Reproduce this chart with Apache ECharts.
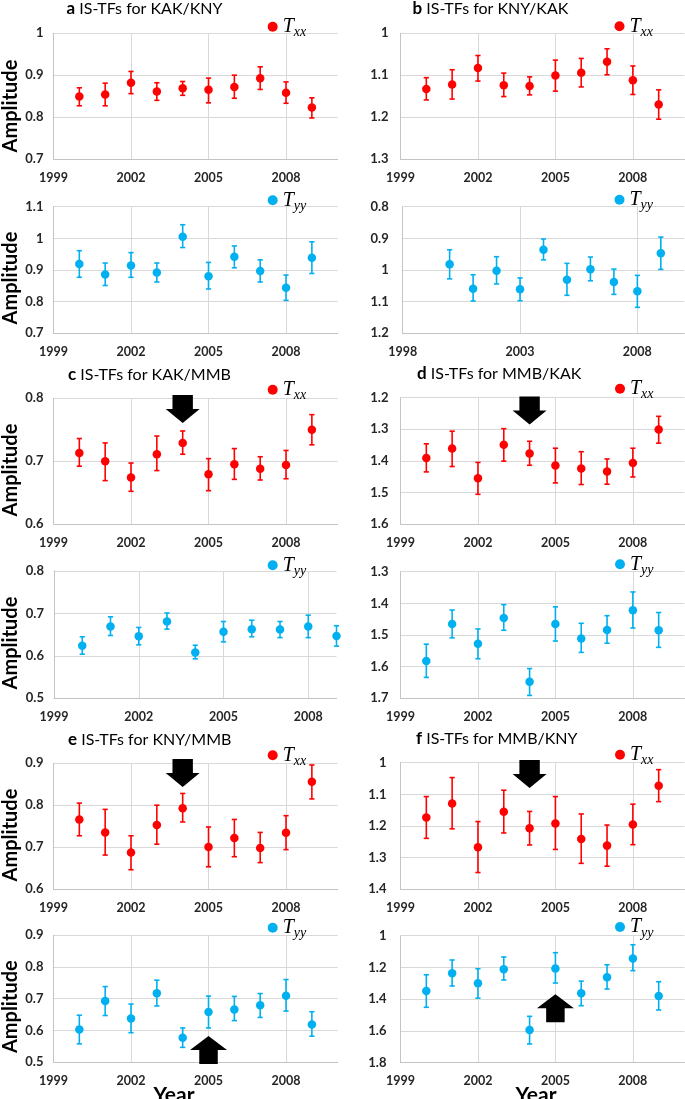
<!DOCTYPE html>
<html><head><meta charset="utf-8">
<script src="https://cdn.jsdelivr.net/npm/echarts@6/dist/echarts.min.js"></script>
<style>html,body{margin:0;padding:0;background:#fff}#c{width:685px;height:1099px}</style>
</head><body><div id="c"></div>
<script>
// ---- data ----
const years = [2000, 2001, 2002, 2003, 2004, 2005, 2006, 2007, 2008, 2009];

const aTxx_val = [0.849, 0.854, 0.882, 0.861, 0.869, 0.865, 0.872, 0.893, 0.858, 0.823];
const aTxx_lo  = [0.827, 0.827, 0.856, 0.840, 0.852, 0.834, 0.845, 0.866, 0.833, 0.798];
const aTxx_hi  = [0.870, 0.881, 0.909, 0.882, 0.885, 0.893, 0.900, 0.920, 0.884, 0.846];

const bTxx_val = [1.133, 1.122, 1.083, 1.124, 1.126, 1.101, 1.094, 1.068, 1.112, 1.170];
const bTxx_lo  = [1.106, 1.087, 1.053, 1.095, 1.104, 1.064, 1.060, 1.037, 1.078, 1.135];
const bTxx_hi  = [1.159, 1.157, 1.114, 1.151, 1.147, 1.138, 1.128, 1.099, 1.146, 1.205];

const aTyy_val = [0.919, 0.886, 0.914, 0.892, 1.005, 0.880, 0.942, 0.897, 0.844, 0.939];
const aTyy_lo  = [0.877, 0.851, 0.877, 0.862, 0.971, 0.840, 0.907, 0.862, 0.804, 0.889];
const aTyy_hi  = [0.961, 0.922, 0.955, 0.922, 1.043, 0.924, 0.976, 0.932, 0.884, 0.989];

const bTyy_val = [0.982, 1.059, 1.002, 1.061, 0.936, 1.031, 0.998, 1.038, 1.067, 0.947];
const bTyy_lo  = [0.936, 1.015, 0.958, 1.025, 0.902, 0.979, 0.959, 0.997, 1.017, 0.896];
const bTyy_hi  = [1.028, 1.098, 1.044, 1.097, 0.968, 1.080, 1.034, 1.077, 1.118, 0.998];

const cTxx_val = [0.713, 0.700, 0.674, 0.711, 0.729, 0.679, 0.695, 0.688, 0.694, 0.750];
const cTxx_lo  = [0.692, 0.669, 0.652, 0.685, 0.711, 0.653, 0.671, 0.670, 0.672, 0.726];
const cTxx_hi  = [0.736, 0.729, 0.697, 0.740, 0.748, 0.704, 0.720, 0.707, 0.717, 0.774];

const dTxx_val = [1.391, 1.361, 1.455, 1.349, 1.377, 1.415, 1.424, 1.434, 1.407, 1.301];
const dTxx_lo  = [1.346, 1.306, 1.405, 1.298, 1.338, 1.360, 1.371, 1.394, 1.360, 1.259];
const dTxx_hi  = [1.435, 1.418, 1.506, 1.401, 1.414, 1.470, 1.475, 1.474, 1.451, 1.344];

const cTyy_val = [0.624, 0.669, 0.646, 0.681, 0.608, 0.657, 0.663, 0.662, 0.669, 0.647];
const cTyy_lo  = [0.604, 0.648, 0.626, 0.663, 0.593, 0.633, 0.645, 0.643, 0.643, 0.623];
const cTyy_hi  = [0.645, 0.692, 0.667, 0.701, 0.625, 0.681, 0.684, 0.681, 0.696, 0.671];

const dTyy_val = [1.582, 1.465, 1.528, 1.446, 1.648, 1.465, 1.511, 1.484, 1.422, 1.485];
const dTyy_lo  = [1.529, 1.421, 1.481, 1.404, 1.606, 1.411, 1.463, 1.439, 1.364, 1.429];
const dTyy_hi  = [1.634, 1.509, 1.575, 1.485, 1.691, 1.519, 1.555, 1.526, 1.478, 1.539];

const eTxx_val = [0.766, 0.735, 0.687, 0.753, 0.793, 0.700, 0.722, 0.698, 0.734, 0.856];
const eTxx_lo  = [0.727, 0.681, 0.646, 0.707, 0.760, 0.653, 0.677, 0.663, 0.694, 0.815];
const eTxx_hi  = [0.805, 0.790, 0.727, 0.800, 0.828, 0.748, 0.766, 0.735, 0.775, 0.896];

const fTxx_val = [1.173, 1.129, 1.267, 1.155, 1.207, 1.192, 1.241, 1.262, 1.195, 1.073];
const fTxx_lo  = [1.107, 1.047, 1.186, 1.087, 1.154, 1.107, 1.162, 1.197, 1.131, 1.022];
const fTxx_hi  = [1.239, 1.209, 1.347, 1.222, 1.260, 1.274, 1.318, 1.327, 1.259, 1.123];

const eTyy_val = [0.603, 0.693, 0.638, 0.717, 0.577, 0.658, 0.666, 0.679, 0.709, 0.619];
const eTyy_lo  = [0.558, 0.647, 0.593, 0.677, 0.547, 0.608, 0.631, 0.641, 0.661, 0.582];
const eTyy_hi  = [0.648, 0.738, 0.683, 0.758, 0.608, 0.708, 0.707, 0.716, 0.760, 0.659];

const fTyy_val = [1.349, 1.237, 1.300, 1.212, 1.594, 1.206, 1.363, 1.262, 1.143, 1.380];
const fTyy_lo  = [1.246, 1.153, 1.208, 1.134, 1.508, 1.107, 1.286, 1.183, 1.057, 1.290];
const fTyy_hi  = [1.451, 1.317, 1.393, 1.279, 1.682, 1.298, 1.441, 1.336, 1.220, 1.468];

// axis ranges [min, max, interval]
const xStd = [1999, 2010, 3];
const xB2 = [1998, 2010, 5];
const xC2 = [1999, 2009, 3];

// arrows: [panel, year, value, direction]
const arrows = [
  ['cTxx', 2004, 0.783, 'down'],
  ['dTxx', 2004, 1.2405, 'down'],
  ['eTxx', 2004, 0.877, 'down'],
  ['fTxx', 2004, 1.036, 'down'],
  ['eTyy', 2005, 0.539, 'up'],
  ['fTyy', 2005, 1.457, 'up']
];

const titles = [
  ['a', 'IS-TFs for KAK/KNY'], ['b', 'IS-TFs for KNY/KAK'],
  ['c', 'IS-TFs for KAK/MMB'], ['d', 'IS-TFs for MMB/KAK'],
  ['e', 'IS-TFs for KNY/MMB'], ['f', 'IS-TFs for MMB/KNY']
];

// ---- styling / layout ----
const RED = '#ff0000', BLUE = '#00b0f0';
const SANS = 'Lato, "Open Sans", sans-serif';
const SERIF = '"Liberation Serif", "DejaVu Serif", serif';
const GRID_C = '#d9d9d9', AXIS_C = '#c4c4c4', LAB_C = '#262626';

const panels = [
  {id:'aTxx', g:[53.5, 33.3, 284.2, 125.7], x:xStd, y:[0.7, 1, 0.1], inv:false, c:RED, sub:'xx', v:aTxx_val, lo:aTxx_lo, hi:aTxx_hi, m:10, lg:[272.7, 29.7]},
  {id:'bTxx', g:[400.5, 33.3, 284, 125.7], x:xStd, y:[1, 1.3, 0.1], inv:true, c:RED, sub:'xx', v:bTxx_val, lo:bTxx_lo, hi:bTxx_hi, m:12, lg:[619.5, 29.3]},
  {id:'aTyy', g:[53.5, 206.7, 284.2, 126.6], x:xStd, y:[0.7, 1.1, 0.1], inv:false, c:BLUE, sub:'yy', v:aTyy_val, lo:aTyy_lo, hi:aTyy_hi, m:10, lg:[272.7, 203.3]},
  {id:'bTyy', g:[402.7, 206.7, 281.6, 126.6], x:xB2, y:[0.8, 1.2, 0.1], inv:true, c:BLUE, sub:'yy', v:bTyy_val, lo:bTyy_lo, hi:bTyy_hi, m:14, lg:[619.5, 202.7]},
  {id:'cTxx', g:[53.5, 398.3, 284.2, 125.7], x:xStd, y:[0.6, 0.8, 0.1], inv:false, c:RED, sub:'xx', v:cTxx_val, lo:cTxx_lo, hi:cTxx_hi, m:10, lg:[272.7, 392.7]},
  {id:'dTxx', g:[400.5, 397.7, 284, 126.3], x:xStd, y:[1.2, 1.6, 0.1], inv:true, c:RED, sub:'xx', v:dTxx_val, lo:dTxx_lo, hi:dTxx_hi, m:12, lg:[620, 391.7]},
  {id:'cTyy', g:[54, 571, 282.5, 127.3], x:xC2, y:[0.5, 0.8, 0.1], inv:false, c:BLUE, sub:'yy', v:cTyy_val, lo:cTyy_lo, hi:cTyy_hi, m:10, lg:[272.7, 568.3]},
  {id:'dTyy', g:[400.5, 571.7, 284, 126.6], x:xStd, y:[1.3, 1.7, 0.1], inv:true, c:BLUE, sub:'yy', v:dTyy_val, lo:dTyy_lo, hi:dTyy_hi, m:12, lg:[620, 567.3]},
  {id:'eTxx', g:[53.5, 763.3, 284.2, 125.7], x:xStd, y:[0.6, 0.9, 0.1], inv:false, c:RED, sub:'xx', v:eTxx_val, lo:eTxx_lo, hi:eTxx_hi, m:10, lg:[272.7, 758.3]},
  {id:'fTxx', g:[400.5, 762.7, 284, 126.6], x:xStd, y:[1, 1.4, 0.1], inv:true, c:RED, sub:'xx', v:fTxx_val, lo:fTxx_lo, hi:fTxx_hi, m:14, lg:[620, 757.7]},
  {id:'eTyy', g:[53.5, 935, 284.2, 127.3], x:xStd, y:[0.5, 0.9, 0.1], inv:false, c:BLUE, sub:'yy', v:eTyy_val, lo:eTyy_lo, hi:eTyy_hi, m:10, lg:[272.7, 930.7]},
  {id:'fTyy', g:[400.5, 935.7, 284, 127], x:xStd, y:[1, 1.8, 0.2], inv:true, c:BLUE, sub:'yy', v:fTyy_val, lo:fTyy_lo, hi:fTyy_hi, m:14, lg:[620, 930]}
];

const titlePos = [[66.5, 0], [412.5, 0], [68, 366], [417, 365], [68, 731], [416, 730.5]];
const amplitudeY = [106, 278, 470, 643, 835, 1006.7];
const yearPos = [[174, 1095], [536, 1095]];

const DOWN_PATH = 'path://M20,0 L80,0 L80,50 L100,50 L50,100 L0,50 L20,50 Z';
const UP_PATH = 'path://M50,0 L100,50 L75,50 L75,100 L25,100 L25,50 L0,50 Z';

const option = {
  animation: false, backgroundColor: '#fff',
  grid: [], xAxis: [], yAxis: [], series: [], legend: [], title: [], graphic: []
};

panels.forEach((p, i) => {
  option.grid.push({left: p.g[0], top: p.g[1], width: p.g[2], height: p.g[3], containLabel: false, outerBoundsMode: 'none'});
  const xmin = p.x[0], xstep = p.x[2];
  option.xAxis.push({
    type: 'value', gridIndex: i, min: p.x[0], max: p.x[1], interval: p.x[2],
    axisLine: {show: true, onZero: false, lineStyle: {color: AXIS_C, width: 1}},
    axisTick: {show: false},
    splitLine: {show: true, showMinLine: false, showMaxLine: false, lineStyle: {color: GRID_C, width: 1}},
    axisLabel: {margin: 12, color: LAB_C, fontFamily: SANS, fontWeight: 'bold', fontSize: 12.5, showMaxLabel: false,
      formatter: v => (((v - xmin) % xstep) === 0 ? String(v) : '')}
  });
  option.yAxis.push({
    type: 'value', gridIndex: i, min: p.y[0], max: p.y[1], interval: p.y[2], inverse: p.inv,
    axisLine: {show: true, lineStyle: {color: AXIS_C, width: 1}},
    axisTick: {show: false},
    splitLine: {show: true, lineStyle: {color: GRID_C, width: 1}},
    axisLabel: {margin: p.m, color: LAB_C, fontFamily: SANS, fontWeight: 'bold', fontSize: 13}
  });
  const color = p.c;
  option.series.push({
    type: 'custom', name: p.id + '-err', xAxisIndex: i, yAxisIndex: i, clip: false, z: 2, silent: true,
    data: years.map((yr, k) => [yr, p.lo[k], p.hi[k]]),
    encode: {x: 0, y: [1, 2]},
    renderItem: (params, api) => {
      const x = api.value(0);
      const a = api.coord([x, api.value(1)]);
      const b = api.coord([x, api.value(2)]);
      const w = 2.6;
      const st = {stroke: color, lineWidth: 1.6};
      return {type: 'group', children: [
        {type: 'line', shape: {x1: a[0], y1: a[1], x2: b[0], y2: b[1]}, style: st},
        {type: 'line', shape: {x1: a[0] - w, y1: a[1], x2: a[0] + w, y2: a[1]}, style: st},
        {type: 'line', shape: {x1: b[0] - w, y1: b[1], x2: b[0] + w, y2: b[1]}, style: st}
      ]};
    }
  });
  const sc = {
    type: 'scatter', name: p.id, xAxisIndex: i, yAxisIndex: i, clip: false, z: 3, silent: true,
    symbol: 'circle', symbolSize: 8.5, itemStyle: {color: color, opacity: 1},
    data: years.map((yr, k) => [yr, p.v[k]])
  };
  const arr = arrows.filter(a => a[0] === p.id);
  if (arr.length) {
    sc.markPoint = {
      silent: true, label: {show: false}, itemStyle: {color: '#000'}, symbolKeepAspect: false,
      data: arr.map(a => ({coord: [a[1], a[2]], symbol: a[3] === 'down' ? DOWN_PATH : UP_PATH,
        symbolSize: a[3] === 'down' ? [34, 28] : [37, 28]}))
    };
  }
  option.series.push(sc);
  option.legend.push({
    data: [p.id], left: p.lg[0] - 5, top: p.lg[1] - 13, padding: 0, itemWidth: 10, itemHeight: 10,
    icon: 'circle', selectedMode: false,
    formatter: () => '{t|T}{s|' + p.sub + '}',
    textStyle: {rich: {
      t: {fontFamily: SERIF, fontStyle: 'italic', fontSize: 20, lineHeight: 26, verticalAlign: 'middle', color: '#000'},
      s: {fontFamily: SERIF, fontStyle: 'italic', fontSize: 14, lineHeight: 14, verticalAlign: 'bottom', color: '#000'}
    }}
  });
});

titles.forEach((t, i) => {
  option.title.push({
    left: titlePos[i][0], top: titlePos[i][1], padding: 0,
    text: '{b|' + t[0] + '} ' + t[1],
    textStyle: {fontFamily: SANS, fontSize: 16, fontWeight: 'normal', color: '#000',
      rich: {b: {fontFamily: SANS, fontSize: 17, fontWeight: 'bold', color: '#000'}}}
  });
});

amplitudeY.forEach(y => {
  option.graphic.push({type: 'text', x: 11, y: y, rotation: Math.PI / 2, silent: true,
    style: {text: 'Amplitude', fontFamily: SANS, fontSize: 20, fontWeight: 'bold', fill: '#000', align: 'center', verticalAlign: 'middle'}});
});
yearPos.forEach(pp => {
  option.graphic.push({type: 'text', x: pp[0], y: pp[1], silent: true,
    style: {text: 'Year', fontFamily: SANS, fontSize: 21, fontWeight: 'bold', fill: '#000', align: 'center', verticalAlign: 'middle'}});
});

const chart = echarts.init(document.getElementById('c'), null, {renderer: 'canvas'});
chart.setOption(option);
</script></body></html>
